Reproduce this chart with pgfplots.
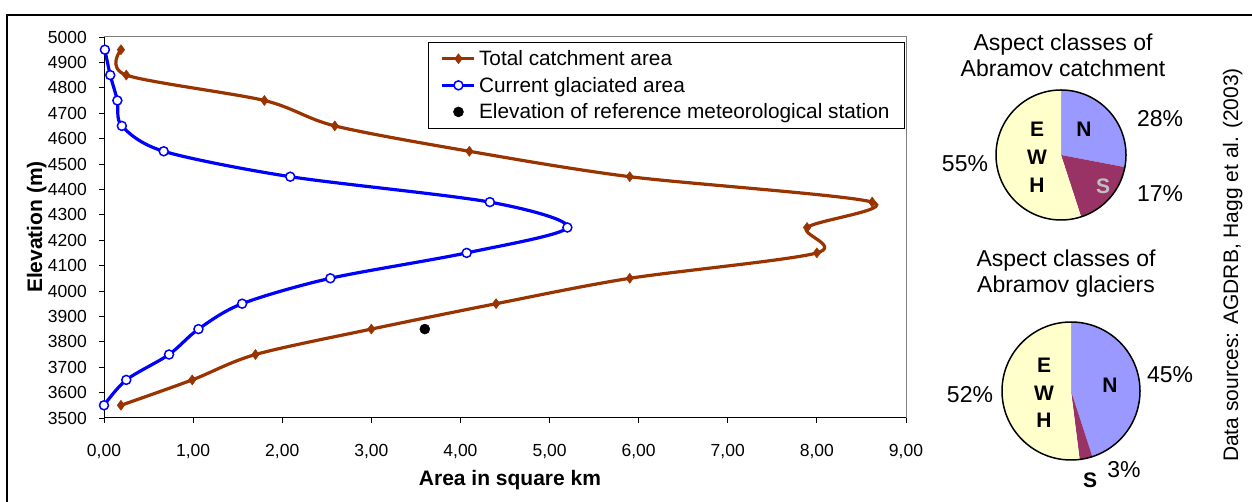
\documentclass[border=0pt]{standalone}
\usepackage{fontspec}
\setmainfont{Liberation Sans}
\usepackage{pgfplots}
\pgfplotsset{compat=1.18}
\definecolor{brn}{HTML}{993300}
\definecolor{blu}{HTML}{0000FF}
\definecolor{pN}{HTML}{9999FF}
\definecolor{pS}{HTML}{993366}
\definecolor{pE}{HTML}{FFFFCC}
\newcommand{\fs}[1]{\fontsize{#1}{#1}\selectfont}
\begin{document}
\begin{tikzpicture}[x=1pt,y=1pt]
\useasboundingbox (0,0) rectangle (1252,502);
\draw[line width=2pt] (7,0) -- (7,487) -- (1252,487);
\begin{axis}[
  at={(104pt,84pt)}, anchor=south west, scale only axis,
  width=802pt, height=381pt,
  xmin=0, xmax=9, ymin=3500, ymax=5000,
  axis lines*=left, axis line style={line width=1pt},
  xtick={0,1,...,9}, ytick={3500,3600,...,5000},
  tick align=outside, major tick length=5pt,
  tick style={black, line width=0.8pt},
  /pgf/number format/assume math mode=true,
  ticklabel style={font=\fs{17.5}},
  x tick label style={/pgf/number format/.cd, fixed, fixed zerofill, precision=2, use comma, /tikz/.cd, anchor=base, yshift=-34pt},
  y tick label style={/pgf/number format/.cd, 1000 sep={}, /tikz/.cd, anchor=east, inner sep=0pt, xshift=-12pt},
  clip=false,
  legend style={at={(0.9988,0.9869)}, anchor=north east, draw=black, line width=1pt,
    fill=white, font=\fs{20.8}, cells={anchor=west}, row sep=6pt,
    nodes={inner xsep=3pt, inner ysep=2pt},
    inner xsep=12pt, inner ysep=6pt},
  legend image code/.code={\draw[mark repeat=2,mark phase=2,#1,line width=3.2pt] plot coordinates {(0pt,0pt) (16pt,0pt) (32pt,0pt)};},
]
\draw[gray, line width=1pt] (rel axis cs:0,1) -- (rel axis cs:1,1) -- (rel axis cs:1,0);
\addplot[brn, line width=3.2pt, smooth, tension=0.5, mark=diamond*, mark size=5pt,
  mark options={fill=brn, line width=0.5pt}] table {
x y
0.19 4950
0.25 4850
1.80 4750
2.59 4650
4.10 4550
5.90 4450
8.62 4350
7.89 4250
8.00 4150
5.90 4050
4.40 3950
3.00 3850
1.70 3750
0.99 3650
0.19 3550
};
\addplot[blu, line width=3.2pt, smooth, tension=0.5, mark=*, mark size=4.5pt,
  mark options={fill=white, line width=1.5pt}] table {
x y
0.01 4950
0.07 4850
0.15 4750
0.20 4650
0.67 4550
2.09 4450
4.33 4350
5.20 4250
4.07 4150
2.54 4050
1.55 3950
1.06 3850
0.73 3750
0.25 3650
0.00 3550
};
\addplot[only marks, mark=*, black, mark size=5pt, mark options={line width=0.5pt}] coordinates {(3.60,3850)};
\legend{Total catchment area, Current glaciated area, Elevation of reference meteorological station}
\end{axis}
\node[rotate=90, anchor=base, font=\fs{21}\bfseries] at (42,275) {Elevation (m)};
\node[anchor=base, font=\fs{21}\bfseries] at (510,16) {Area in square km};
% pie 1: catchment
\begin{axis}[at={(996pt,282pt)}, anchor=south west, scale only axis,
  width=130pt, height=130pt, xmin=-1, xmax=1, ymin=-1, ymax=1, hide axis, clip=false]
\fill[pN] (axis cs:0,0) -- (axis cs:0,1) arc[start angle=90, end angle={90-3.6*28}, radius=65pt] -- cycle;
\fill[pS] (axis cs:0,0) -- ++({90-3.6*28}:65pt) arc[start angle={90-3.6*28}, end angle={90-3.6*45}, radius=65pt] -- cycle;
\fill[pE] (axis cs:0,0) -- ++({90-3.6*45}:65pt) arc[start angle={90-3.6*45}, end angle={-270}, radius=65pt] -- cycle;
\draw[line width=1.5pt] (axis cs:0,0) circle[radius=65pt];
\end{axis}
% pie 2: glaciers
\begin{axis}[at={(1002pt,42pt)}, anchor=south west, scale only axis,
  width=138pt, height=138pt, xmin=-1, xmax=1, ymin=-1, ymax=1, hide axis, clip=false]
\fill[pN] (axis cs:0,0) -- (axis cs:0,1) arc[start angle=90, end angle={90-3.6*45}, radius=69pt] -- cycle;
\fill[pS] (axis cs:0,0) -- ++({90-3.6*45}:69pt) arc[start angle={90-3.6*45}, end angle={90-3.6*48}, radius=69pt] -- cycle;
\fill[pE] (axis cs:0,0) -- ++({90-3.6*48}:69pt) arc[start angle={90-3.6*48}, end angle={-270}, radius=69pt] -- cycle;
\draw[line width=1.5pt] (axis cs:0,0) circle[radius=69pt];
\end{axis}
% pie texts
\begin{scope}[every node/.style={anchor=base, inner sep=0pt, font=\fs{23}}]
\node at (1063,451) {Aspect classes of};
\node at (1063,425) {Abramov catchment};
\node at (1066,235) {Aspect classes of};
\node at (1066,209) {Abramov glaciers};
\node at (1160,375) {28\%};
\node at (965,330) {55\%};
\node at (1160,300) {17\%};
\node at (1170,119) {45\%};
\node at (970,99) {52\%};
\node at (1124,24) {3\%};
\end{scope}
\begin{scope}[every node/.style={anchor=base, inner sep=0pt, font=\fs{21}\bfseries}]
\node at (1037,365) {E};
\node at (1037,337) {W};
\node at (1037,309) {H};
\node at (1084,365) {N};
\node[text={rgb,255:red,192;green,192;blue,192}] at (1103,308) {S};
\node at (1044,129) {E};
\node at (1044,101) {W};
\node at (1044,74) {H};
\node at (1110,109) {N};
\node at (1090,14) {S};
\end{scope}
\node[rotate=90, anchor=base, inner sep=0pt, font=\fs{21}] at (1238,237) {Data sources: AGDRB, Hagg et al. (2003)};
\end{tikzpicture}
\end{document}
